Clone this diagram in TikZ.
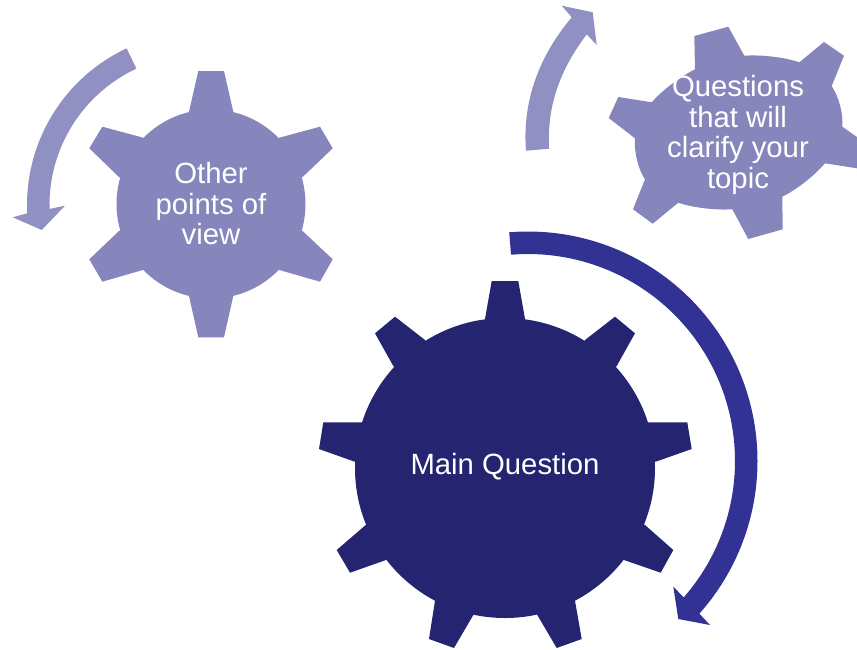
\documentclass[tikz,border=0pt]{standalone}
\usepackage{fontspec}
\setmainfont{Liberation Sans}
\definecolor{darkgear}{RGB}{36,36,112}
\definecolor{darkarrow}{RGB}{49,50,148}
\definecolor{lightgear}{RGB}{134,134,188}
\definecolor{lightarrow}{RGB}{144,144,194}
\tikzset{
  gearlabel/.style={text=white,align=center,inner sep=0pt,font=\fontsize{29.3}{30.5}\selectfont},
}
\begin{document}
\begin{tikzpicture}[x=1pt,y=-1pt]
\useasboundingbox (0,0) rectangle (857,649);
% main gear
\fill[darkgear] (505,468) circle [radius=150];
\foreach \p in {
 {(485,319) -- (491.7,281) -- (518.3,281) -- (525,319)},
 {(585,340) -- (615,316.7) -- (635,333.3) -- (616.7,366)},
 {(648.3,422.3) -- (687.3,422.3) -- (691.7,449) -- (655.7,461.7)},
 {(645,525) -- (673.3,550) -- (660.7,572.7) -- (624,560)},
 {(575,600.7) -- (581.7,639) -- (556.7,648) -- (537.3,615)},
 {(473.3,615) -- (454,648) -- (429,639) -- (435,600.7)},
 {(386,560) -- (350,572.7) -- (336.7,550) -- (365.7,525)},
 {(354.7,461.7) -- (319,449) -- (323.3,422.3) -- (362.3,422.3)},
 {(393.3,366) -- (375,333.3) -- (395,316.7) -- (425,340)}}
 {\expandafter\fill\expandafter[darkgear] \p -- (505,468) -- cycle;}
% other gear
\fill[lightgear] (211,204) circle [radius=94.5];
\foreach \p in {
 {(189,111.7) -- (198.3,71) -- (224,71) -- (233.3,111.7)},
 {(279.3,137.7) -- (320,126.7) -- (332.7,148.3) -- (302.3,177.3)},
 {(302.3,230.7) -- (332.7,259.3) -- (320,281.7) -- (279.3,270)},
 {(233.3,296) -- (224,337.3) -- (198.3,337.3) -- (189,296)},
 {(142.7,270) -- (102.3,281.7) -- (89.3,259.3) -- (119.3,230.7)},
 {(119.3,177.3) -- (89.3,148.3) -- (102.3,126.7) -- (143.3,137.7)}}
 {\expandafter\fill\expandafter[lightgear] \p -- (211,204) -- cycle;}
% questions gear: body through the tooth roots
\fill[lightgear] plot[smooth cycle,tension=0.6] coordinates {
 (695,69.3) (744.3,55.7) (799.3,62.3) (831.7,86) (842.3,126.7) (825,163.3)
 (782.3,196.7) (732.3,209.3) (678.3,202.7) (645,179.3) (635,138.3) (651.7,102.3)};
\foreach \p in {
 {(695,69.3) -- (694.3,36) -- (728.3,26.7) -- (744.3,55.7)},
 {(799.3,62.3) -- (824,42) -- (844,55.7) -- (831.7,86)},
 {(842.3,126.7) -- (857,137) -- (857,168.3) -- (825,163.3)},
 {(782.3,196.7) -- (782.7,229.3) -- (748.3,239) -- (732.3,209.3)},
 {(678.3,202.7) -- (652.7,223.7) -- (633,209.3) -- (645,179.3)},
 {(635,138.3) -- (608.7,118) -- (618.3,97) -- (651.7,102.3)}}
 {\expandafter\fill\expandafter[lightgear] \p -- (738.5,132.6) -- cycle;}
% main arrow
\fill[darkarrow] plot[smooth,domain=-94.7:41.7,samples=60] ({528+229.5*cos(\x)},{461+229.5*sin(\x)})
  -- (710,625) -- (678.3,619) -- (673.3,586.7)
  -- plot[smooth,domain=41.2:-94.7,samples=60] ({528+207*cos(\x)},{461+207*sin(\x)}) -- cycle;
% left arrow
\fill[lightarrow] plot[smooth,domain=244.9:177.25,samples=40] ({200+173*cos(\x)},{205+173*sin(\x)})
  -- (12.7,217.3) -- (41.7,230) -- (65,205.7)
  -- plot[smooth,domain=178.5:245,samples=40] ({200+150.5*cos(\x)},{205+150.5*sin(\x)}) -- cycle;
% top arrow
\fill[lightarrow] (526,150.7) .. controls (522,100) and (540,55) .. (571.7,17.3)
  -- (561.7,5.7) -- (592.7,12.3) -- (596.7,45) -- (586.7,34.3)
  .. controls (560,70) and (547,105) .. (549,148.7) -- cycle;
% labels
\node[gearlabel] (main) at (505,467) {Main Question};
\node[gearlabel] (other) at (211,204) {Other\\points of\\view};
\node[gearlabel] (clarify) at (738,135) {Questions\\that will\\clarify your\\topic};
\end{tikzpicture}
\end{document}
